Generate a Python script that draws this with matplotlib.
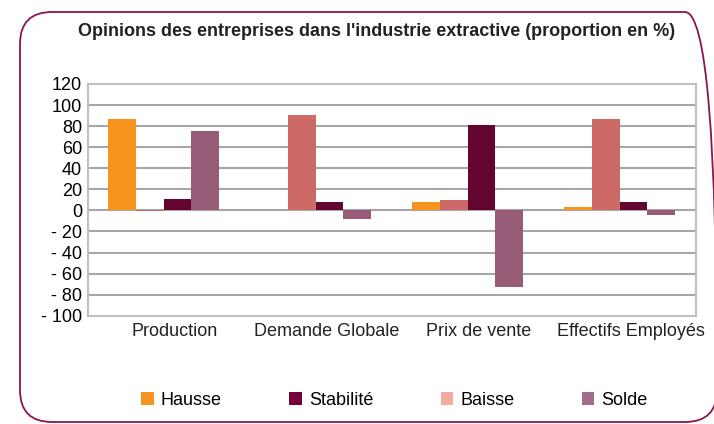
import matplotlib
matplotlib.use("Agg")
import matplotlib.pyplot as plt
import matplotlib.transforms as mtransforms
from matplotlib.patches import FancyBboxPatch, Patch
from matplotlib import font_manager
import numpy as np

categories = ["Production", "Demande Globale", "Prix de vente", "Effectifs Employés"]
# series in the order the bars are drawn inside each group
hausse = [87, 0, 8, 3]
baisse = [-1, 91, 10, 87]
stabilite = [11, 8, 81, 8]
solde = [75, -8, -73, -4]
yticks = [-100, -80, -60, -40, -20, 0, 20, 40, 60, 80, 100, 120]

bar_colors = ["#F7941D", "#CD6966", "#63052F", "#985C79"]
legend_labels = ["Hausse", "Stabilité", "Baisse", "Solde"]
legend_colors = ["#F7941D", "#75003A", "#F4AB9C", "#A16E8B"]

names = {f.name for f in font_manager.fontManager.ttflist}
narrow = "Liberation Sans Narrow" if "Liberation Sans Narrow" in names else "Liberation Sans"

fig = plt.figure(figsize=(7.14, 4.24), dpi=100)

# rounded frame round the whole chart
frame = FancyBboxPatch((0.20, 0.02), 6.97, 4.10, boxstyle="round,pad=0,rounding_size=0.32",
                       transform=fig.dpi_scale_trans, fill=False, edgecolor="#8B1550", lw=1.3)
fig.patches.append(frame)

ax = fig.add_axes([0.1228, 0.2554, 0.9744 - 0.1228, 0.8019 - 0.2554])
x = np.arange(len(categories))
w = 0.182
series = [hausse, baisse, stabilite, solde]
for i, vals in enumerate(series):
    ax.bar(x + (i - 1.5) * w, vals, width=w, color=bar_colors[i], zorder=3)

ax.set_xlim(-0.5, 3.5)
ax.set_ylim(-100, 120)
ax.set_yticks(yticks)
ax.set_yticklabels([f"- {abs(v)}" if v < 0 else str(v) for v in yticks],
                   fontsize=13, family="Liberation Sans", color="#000000")
ax.yaxis.grid(True, color="#A6A6A6", lw=1.5, zorder=1)
ax.tick_params(axis="y", length=0, pad=4)
ax.set_xticks(x)
ax.set_xticklabels(categories, fontsize=13, family=narrow, color="#222222")
ax.tick_params(axis="x", length=0, pad=5)
offset = mtransforms.ScaledTranslation(0.11, 0, fig.dpi_scale_trans)
for lab in ax.get_xticklabels():
    lab.set_transform(lab.get_transform() + offset)
for sp in ax.spines.values():
    sp.set_color("#C0C0C0")
    sp.set_linewidth(1.5)

fig.text(0.527, 0.925, "Opinions des entreprises dans l'industrie extractive (proportion en %)",
         ha="center", va="center", fontsize=13, fontweight="bold", family=narrow, color="#222222")

handles = [Patch(facecolor=c, edgecolor="none") for c in legend_colors]
fig.legend(handles, legend_labels, loc="center", bbox_to_anchor=(0.5525, 0.056), ncol=4,
           frameon=False, handlelength=0.67, handleheight=0.67, handletextpad=0.4,
           columnspacing=3.75, prop={"family": narrow, "size": 13})

fig.savefig("out.png", dpi=100)
